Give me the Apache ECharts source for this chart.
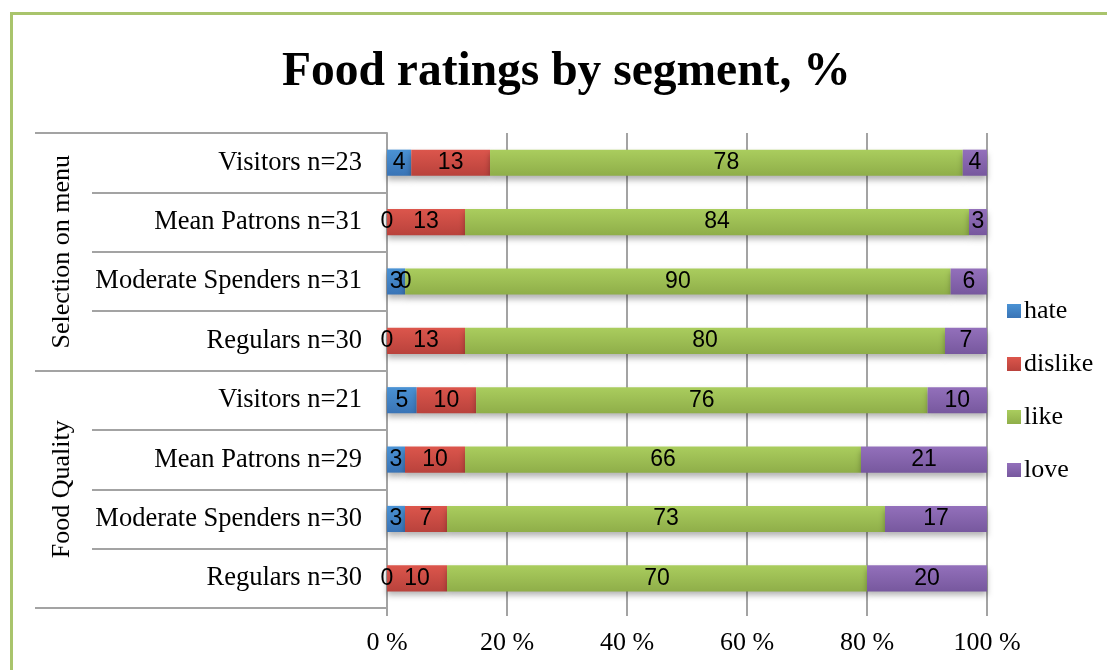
<!DOCTYPE html>
<html>
<head>
<meta charset="utf-8">
<title>Food ratings by segment</title>
<script src="https://cdn.jsdelivr.net/npm/echarts@6/dist/echarts.min.js"></script>
<style>
  html, body { margin: 0; padding: 0; background: #ffffff; }
  #chart { width: 1107px; height: 670px; }
</style>
</head>
<body>
<div id="chart"></div>
<script>
// Segments, top to bottom
const categories = [
  'Visitors n=23', 'Mean Patrons n=31', 'Moderate Spenders n=31', 'Regulars n=30',
  'Visitors n=21', 'Mean Patrons n=29', 'Moderate Spenders n=30', 'Regulars n=30'
];
// Question groups spanning four segments each
const groups = ['Selection on menu', 'Food Quality'];

// Rating shares (%) per segment
const hate    = [4, 0, 3, 0, 5, 3, 3, 0];
const dislike = [13, 13, 0, 13, 10, 10, 7, 10];
const like    = [78, 84, 90, 80, 76, 66, 73, 70];
const love    = [4, 3, 6, 7, 10, 21, 17, 20];

const xTicks = [0, 20, 40, 60, 80, 100];

const serif = 'Liberation Serif, Times New Roman, serif';
const gray = '#a3a3a3';

// Each row is drawn as a 100% stack: shares are scaled by the row total
const rowTotals = categories.map((_, i) => hate[i] + dislike[i] + like[i] + love[i]);
const toShare = arr => arr.map((v, i) => ({ value: v / rowTotals[i] * 100, raw: v }));

function grad(top, bottom) {
  return new echarts.graphic.LinearGradient(0, 0, 0, 1, [
    { offset: 0, color: top }, { offset: 1, color: bottom }
  ]);
}

const ratingSeries = [
  { name: 'hate', data: hate, colors: ['#4a92d4', '#3a74b6'] },
  { name: 'dislike', data: dislike, colors: ['#dc564c', '#b9423c'] },
  { name: 'like', data: like, colors: ['#aacd5e', '#8fae49'] },
  { name: 'love', data: love, colors: ['#9370bb', '#77589e'] }
];

const chart = echarts.init(document.getElementById('chart'), null, { renderer: 'canvas' });

chart.setOption({
  animation: false,
  backgroundColor: '#ffffff',
  title: {
    text: 'Food ratings by segment, %',
    left: 277,
    top: 44,
    textStyle: { fontFamily: serif, fontSize: 47.5, fontWeight: 'bold', color: '#000' }
  },
  graphic: [{
    type: 'rect',
    shape: { x: 11.5, y: 13.5, width: 1200, height: 800 },
    style: { fill: 'none', stroke: '#a9c46c', lineWidth: 3 },
    silent: true
  }],
  legend: {
    orient: 'vertical',
    left: 1002,
    top: 293,
    itemWidth: 14,
    itemHeight: 14,
    itemGap: 27,
    icon: 'rect',
    data: ratingSeries.map(s => s.name),
    textStyle: { fontFamily: serif, fontSize: 26, color: '#000', padding: [0, 0, 0, -2] }
  },
  grid: { left: 387, right: 120, top: 133, bottom: 62, containLabel: false },
  xAxis: {
    type: 'value',
    min: 0,
    max: 100,
    interval: 20,
    axisLine: { show: false },
    axisTick: { show: true, length: 8, lineStyle: { color: gray, width: 2 } },
    splitLine: { show: true, lineStyle: { color: gray, width: 2 } },
    axisLabel: {
      formatter: v => (xTicks.includes(v) ? v + ' %' : ''),
      fontFamily: serif, fontSize: 26, color: '#000', margin: 22
    }
  },
  yAxis: [
    {
      type: 'category',
      data: categories,
      inverse: true,
      axisLine: { show: true, lineStyle: { color: gray, width: 2 } },
      axisTick: { show: true, interval: 0, length: 295, lineStyle: { color: gray, width: 2 } },
      splitLine: { show: false },
      axisLabel: { interval: 0, fontFamily: serif, fontSize: 26.5, color: '#000', margin: 25 }
    },
    {
      type: 'category',
      data: groups,
      inverse: true,
      position: 'left',
      offset: 352,
      axisLine: { show: false },
      axisTick: { show: true, interval: 0, inside: true, length: 352, lineStyle: { color: gray, width: 2 } },
      splitLine: { show: false },
      axisLabel: {
        interval: 0, inside: true, rotate: 90, margin: 14,
        fontFamily: serif, fontSize: 26, color: '#000'
      }
    }
  ],
  series: ratingSeries.map(s => ({
    name: s.name,
    type: 'bar',
    stack: 'total',
    yAxisIndex: 0,
    barWidth: '44%',
    data: toShare(s.data),
    itemStyle: {
      color: grad(s.colors[0], s.colors[1]),
      shadowColor: 'rgba(0,0,0,0.3)',
      shadowBlur: 6,
      shadowOffsetY: 4
    },
    label: {
      show: true,
      position: 'inside',
      formatter: p => String(p.data.raw),
      fontFamily: 'Liberation Sans Narrow, Liberation Sans, Arial, sans-serif',
      fontSize: 23,
      color: '#000'
    }
  }))
});
</script>
</body>
</html>
